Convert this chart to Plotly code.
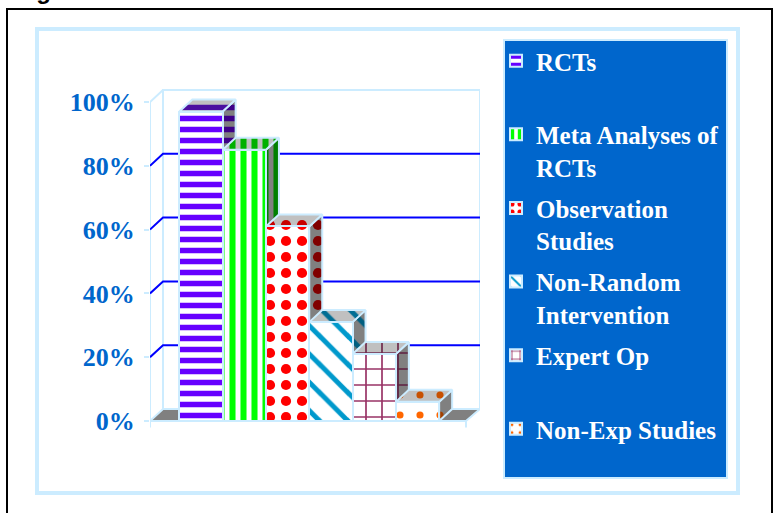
import plotly.graph_objects as go

# Data
categories = ["RCTs<br>&nbsp;", "Meta Analyses of<br>RCTs", "Observation<br>Studies",
              "Non-Random<br>Intervention", "Expert Op<br>&nbsp;", "Non-Exp Studies<br>&nbsp;"]
values = [97, 85, 61, 31, 21, 6]
tick_values = [0, 20, 40, 60, 80, 100]
grid_values = [20, 40, 60, 80]

# Styles
front_colors = ["#6600FF", "#00FF00", "#FF0000", "#0099CC", "#993366", "#FF6600"]
top_colors = ["#4B0FA0", "#00B000", "#C80000", "#006E94", "#6E2A4C", "#C85000"]
side_colors = ["#3D0088", "#008000", "#800000", "#005F80", "#5E1F40", "#A04000"]
shapes_pat = ["-", "|", ".", "\\", "+", "."]
sizes_pat = [11, 11, 16, 20, 16, 20]
solid_pat = [0.5, 0.55, 0.32, 0.25, 0.2, 0.1]
EDGE = "#CCECFF"
BLUE = "#0066CC"

W, H = 779, 513
L, R, T, B = 150, 480, 25, 495
ZERO_Y = 421
PX_X, PX_Y = 43.3, 3.19
X0 = (150 - 201) / PX_X
X1 = X0 + (R - L) / PX_X
FRONT_END = X0 + 316 / PX_X
Y_MIN = (ZERO_Y - B) / PX_Y
Y_MAX = (ZERO_Y - T) / PX_Y
DX, DY = 13 / PX_X, 12 / PX_Y
HALF = 0.5


def px(x):
    return (x - L) / (R - L)


def py(y):
    return (B - y) / (B - T)


fig = go.Figure()


def poly(xs, ys, fill, line=EDGE, pattern=None):
    fig.add_trace(go.Scatter(x=xs, y=ys, mode="lines", fill="toself", fillcolor=fill,
                             line=dict(color=line, width=2), hoverinfo="skip",
                             showlegend=False, fillpattern=pattern))


def seg(xs, ys, color, width=2):
    fig.add_trace(go.Scatter(x=xs, y=ys, mode="lines", line=dict(color=color, width=width),
                             hoverinfo="skip", showlegend=False))


# Floor
poly([X0, X0 + DX, X1, FRONT_END, X0], [0, DY, DY, 0, 0], "#808080")
# Walls
seg([X0, X0], [0, 100], EDGE)
seg([X0 + DX, X0 + DX, X1, X1], [DY, 100 + DY, 100 + DY, DY], EDGE)
seg([X0, X0 + DX], [100, 100 + DY], EDGE)
for g in grid_values:
    seg([X0, X0 + DX, X1], [g, g + DY, g + DY], "#0000FF")
seg([X0, X0], [0, -2], EDGE)
seg([FRONT_END, FRONT_END], [0, -2], EDGE)
seg([X0, FRONT_END], [0, 0], EDGE)

# Side and top faces, left to right so each overlaps the one before
for i, v in enumerate(values):
    r = i + HALF
    l = i - HALF
    poly([r, r + DX, r + DX, r, r], [0, DY, v + DY, v, 0], "#808080",
         pattern=dict(shape=shapes_pat[i], fgcolor=side_colors[i], bgcolor="#808080",
                      size=sizes_pat[i], solidity=solid_pat[i], fillmode="replace"))
    poly([l, l + DX, r + DX, r, l], [v, v + DY, v + DY, v, v], "#C0C0C0",
         pattern=dict(shape=shapes_pat[i], fgcolor=top_colors[i], bgcolor="#C0C0C0",
                      size=sizes_pat[i], solidity=solid_pat[i], fillmode="replace"))

# Front faces on an overlay so they sit above grid lines
for i, v in enumerate(values):
    fig.add_trace(go.Bar(
        x=[i], y=[v], width=1, name=categories[i], xaxis="x2", yaxis="y2",
        legendgroup=str(i),
        marker=dict(color="#FFFFFF", line=dict(color=EDGE, width=2),
                    pattern=dict(shape=shapes_pat[i], fgcolor=front_colors[i], bgcolor="#FFFFFF",
                                 size=sizes_pat[i], solidity=solid_pat[i], fillmode="replace")),
    ))

frames = [
    dict(type="rect", xref="paper", yref="paper", x0=px(7), x1=px(772), y0=py(560), y1=py(9),
         line=dict(color="#000000", width=2), fillcolor="#FFFFFF", layer="below"),
    dict(type="rect", xref="paper", yref="paper", x0=px(37), x1=px(738), y0=py(493), y1=py(29),
         line=dict(color="#CCECFF", width=4), fillcolor="#FFFFFF", layer="below"),
    dict(type="rect", xref="paper", yref="paper", x0=px(504), x1=px(727), y0=py(478), y1=py(40),
         line=dict(color="#CCECFF", width=2), fillcolor=BLUE, layer="below"),
]

fig.update_layout(
    width=W, height=H, margin=dict(l=L, r=W - R, t=T, b=H - B, pad=0, autoexpand=False),
    paper_bgcolor="#FFFFFF", plot_bgcolor="rgba(0,0,0,0)", barmode="overlay", bargap=0,
    shapes=frames,
    xaxis=dict(range=[X0, X1], visible=False, fixedrange=True),
    yaxis=dict(range=[Y_MIN, Y_MAX], tickvals=tick_values, ticktext=[f"{t}%" for t in tick_values],
               showgrid=False, zeroline=False, showline=False, ticks="outside", ticklen=5,
               tickcolor=EDGE, tickwidth=2, ticklabelstandoff=4, fixedrange=True,
               tickfont=dict(family="Liberation Serif", size=26, color=BLUE, weight=700)),
    xaxis2=dict(range=[X0, X1], visible=False, overlaying="x", fixedrange=True),
    yaxis2=dict(range=[Y_MIN, Y_MAX], visible=False, overlaying="y", fixedrange=True),
    legend=dict(x=px(496), y=py(38), xanchor="left", yanchor="top",
                bgcolor="rgba(0,0,0,0)", traceorder="grouped", tracegroupgap=5.6, valign="top",
                font=dict(family="Liberation Serif", size=25, color="#FFFFFF", weight=700)),
    annotations=[dict(text="<b>Fig</b>", xref="paper", yref="paper", x=px(13), y=py(-25),
                      xanchor="left", yanchor="top", showarrow=False,
                      font=dict(family="Liberation Sans", size=24, color="#000000"))],
)
fig.write_html("out.html", config=dict(displayModeBar=False),
               post_script="document.body.style.margin='0';")
